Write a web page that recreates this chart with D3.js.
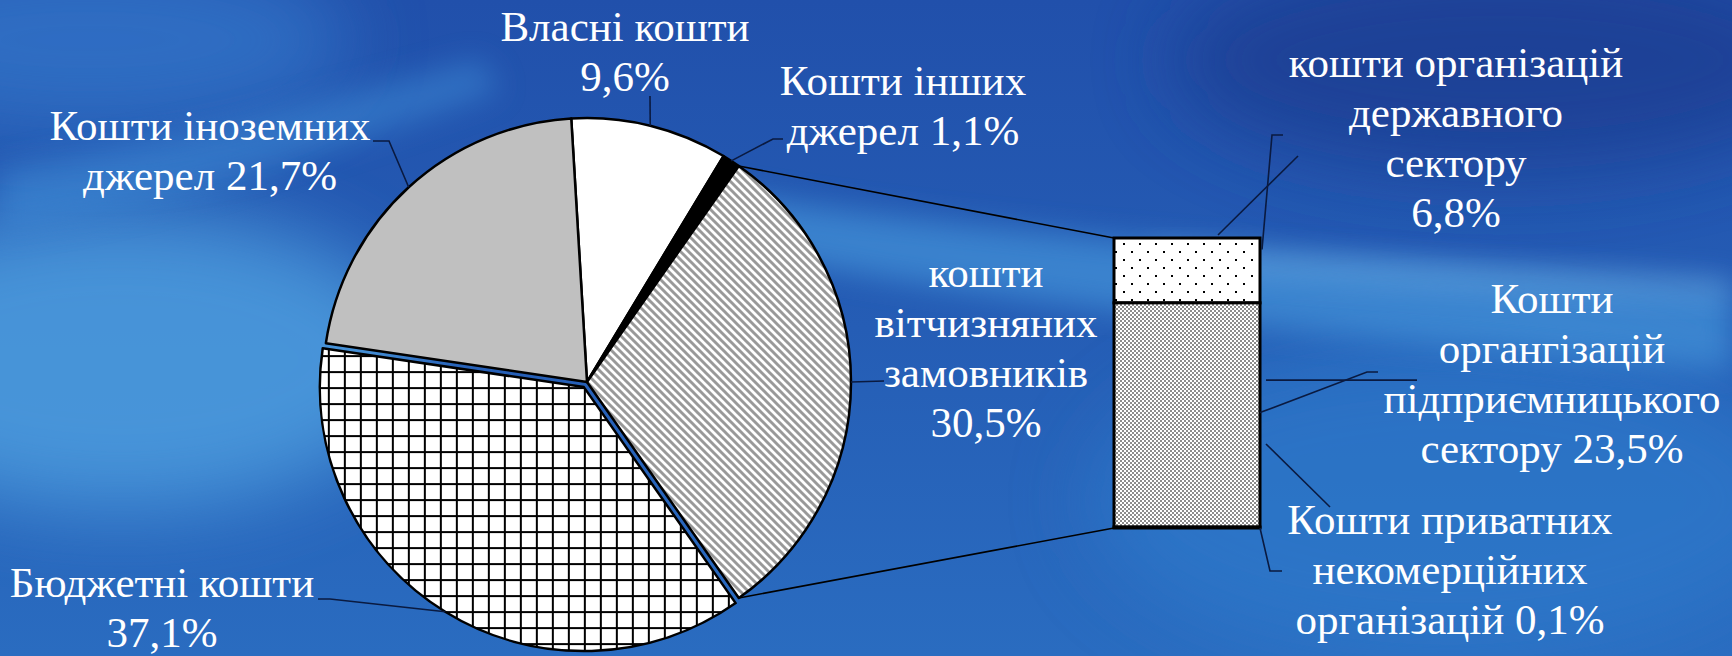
<!DOCTYPE html>
<html>
<head>
<meta charset="utf-8">
<script src="https://cdn.jsdelivr.net/npm/d3@7"></script>
<style>
  body { margin: 0; overflow: hidden; background: #2560b6; }
  text { font-family: "Liberation Serif", "DejaVu Serif", "Times New Roman", serif; }
</style>
</head>
<body>
<div id="container"></div>
<script>
/* DATA */
const pieNames = ["Власні кошти", "Кошти інших джерел", "кошти вітчизняних замовників", "Бюджетні кошти", "Кошти іноземних джерел"];
const pieValues = [9.6, 1.1, 30.5, 37.1, 21.7];
const pieLines = [
  ["Власні кошти", "{v}"],
  ["Кошти інших", "джерел {v}"],
  ["кошти", "вітчизняних", "замовників", "{v}"],
  ["Бюджетні кошти", "{v}"],
  ["Кошти іноземних", "джерел {v}"]
];
const barNames = ["кошти організацій державного сектору", "Кошти органгізацій підприємницького сектору", "Кошти приватних некомерційних організацій"];
const barValues = [6.8, 23.5, 0.1];
const barLines = [
  ["кошти організацій", "державного", "сектору", "{v}"],
  ["Кошти", "органгізацій", "підприємницького", "сектору {v}"],
  ["Кошти приватних", "некомерційних", "організацій {v}"]
];

/* CONSTANTS AND GLOBALS */
const width = 1732, height = 656;
const cx = 587, cy = 382, r = 264;
const explode = 6, explodedIndex = 3, splitIndex = 2;
const barX = 1114, barW = 146, barTop = 238, barBottom = 528;
const fontSize = 43, lineH = 50;

const pieLabelPos = [[625, 41], [903, 95], [986, 287], [162, 597], [210, 140]];
const pieLeaderEnds = [[[650, 96]], [[783, 139], [773, 139]], [[884, 381]], [[318, 599], [330, 599]], [[373, 141], [389, 141]]];
const barLabelPos = [[1456, 77], [1552, 313], [1450, 534]];

const fmt = v => d3.format(".1f")(v).replace(".", ",") + "%";

// CREATE SVG ELEMENT
const svg = d3.select("#container")
  .append("svg")
  .attr("width", width)
  .attr("height", height);

const defs = svg.append("defs");

// BACKGROUND
const bg = defs.append("linearGradient").attr("id", "bg")
  .attr("x1", 0).attr("y1", 0).attr("x2", 0).attr("y2", 1);
bg.append("stop").attr("offset", 0).attr("stop-color", "#2150ab");
bg.append("stop").attr("offset", 0.5).attr("stop-color", "#255db5");
bg.append("stop").attr("offset", 1).attr("stop-color", "#2a6cc0");

defs.append("filter").attr("id", "blur40").attr("x", "-50%").attr("y", "-50%").attr("width", "200%").attr("height", "200%")
  .append("feGaussianBlur").attr("stdDeviation", 40);
defs.append("filter").attr("id", "blur15").attr("x", "-50%").attr("y", "-50%").attr("width", "200%").attr("height", "200%")
  .append("feGaussianBlur").attr("stdDeviation", 15);

svg.append("rect").attr("width", width).attr("height", height).attr("fill", "url(#bg)");

const back = svg.append("g");
back.append("ellipse").attr("cx", 120).attr("cy", 360).attr("rx", 300).attr("ry", 150)
  .attr("fill", "#52a6e4").attr("opacity", 0.75).attr("filter", "url(#blur40)");
back.append("ellipse").attr("cx", 90).attr("cy", 40).attr("rx", 260).attr("ry", 90)
  .attr("fill", "#3479cc").attr("opacity", 0.7).attr("filter", "url(#blur40)");
back.append("ellipse").attr("cx", 1500).attr("cy", 60).attr("rx", 330).attr("ry", 110)
  .attr("fill", "#1a3c92").attr("opacity", 0.8).attr("filter", "url(#blur40)");
back.append("ellipse").attr("cx", 1450).attr("cy", 500).attr("rx", 360).attr("ry", 160)
  .attr("fill", "#2f7ccc").attr("opacity", 0.65).attr("filter", "url(#blur40)");
back.append("path")
  .attr("d", "M680,185 C900,225 1200,250 1732,290 L1732,370 C1250,330 950,295 700,245 Z")
  .attr("fill", "#4a9de0").attr("opacity", 0.6).attr("filter", "url(#blur15)");
back.append("path")
  .attr("d", "M1150,250 C1350,262 1550,272 1732,282 L1732,296 C1550,288 1350,280 1150,262 Z")
  .attr("fill", "#8fcaf2").attr("opacity", 0.5).attr("filter", "url(#blur15)");
back.append("path")
  .attr("d", "M0,170 C120,150 260,120 480,60 L500,90 C280,170 140,210 0,230 Z")
  .attr("fill", "#3f8ed8").attr("opacity", 0.5).attr("filter", "url(#blur15)");

// PATTERNS
const hatch = defs.append("pattern").attr("id", "hatch").attr("patternUnits", "userSpaceOnUse")
  .attr("width", 8).attr("height", 8);
hatch.append("rect").attr("width", 8).attr("height", 8).attr("fill", "#fff");
hatch.append("path").attr("d", "M-2,-2 L10,10 M-2,6 L2,10 M6,-2 L10,2")
  .attr("stroke", "#999").attr("stroke-width", 2.9);

const grid = defs.append("pattern").attr("id", "grid").attr("patternUnits", "userSpaceOnUse")
  .attr("width", 16).attr("height", 16);
grid.append("rect").attr("width", 16).attr("height", 16).attr("fill", "#fff");
grid.append("rect").attr("width", 16).attr("height", 2).attr("fill", "#000");
grid.append("rect").attr("width", 2).attr("height", 16).attr("fill", "#000");

const dots = defs.append("pattern").attr("id", "dots").attr("patternUnits", "userSpaceOnUse")
  .attr("width", 16).attr("height", 16);
dots.append("rect").attr("width", 16).attr("height", 16).attr("fill", "#fff");
dots.append("rect").attr("x", 3).attr("y", 3).attr("width", 2).attr("height", 2).attr("fill", "#000");
dots.append("rect").attr("x", 11).attr("y", 11).attr("width", 2).attr("height", 2).attr("fill", "#000");

const checker = defs.append("pattern").attr("id", "checker").attr("patternUnits", "userSpaceOnUse")
  .attr("width", 4).attr("height", 4);
checker.append("rect").attr("width", 4).attr("height", 4).attr("fill", "#fff");
checker.append("rect").attr("width", 2).attr("height", 2).attr("fill", "#8c8c8c");
checker.append("rect").attr("x", 2).attr("y", 2).attr("width", 2).attr("height", 2).attr("fill", "#8c8c8c");

const pieFills = ["#ffffff", "#000000", "url(#hatch)", "url(#grid)", "#c0c0c0"];
const barFills = ["url(#dots)", "url(#checker)", "#000000"];

// PIE
const total = d3.sum(pieValues);
const before = d3.sum(pieValues.slice(0, splitIndex)) + pieValues[splitIndex] / 2;
const start = Math.PI / 2 - 2 * Math.PI * before / total;

const pie = d3.pie().sort(null).value(d => d)
  .startAngle(start).endAngle(start + 2 * Math.PI);
const arcs = pie(pieValues);
const arc = d3.arc().innerRadius(0).outerRadius(r);

const polar = (a, rad) => [rad * Math.sin(a), -rad * Math.cos(a)];
const offsetOf = (d, i) => {
  if (i !== explodedIndex) return [0, 0];
  return polar((d.startAngle + d.endAngle) / 2, explode);
};

const pieG = svg.append("g").attr("transform", `translate(${cx},${cy})`);
pieG.selectAll("path.slice")
  .data(arcs)
  .join("path")
  .attr("class", "slice")
  .attr("transform", (d, i) => `translate(${offsetOf(d, i)})`)
  .attr("d", arc)
  .attr("fill", (d, i) => pieFills[i])
  .attr("stroke", "#000")
  .attr("stroke-width", 2.5)
  .attr("stroke-linejoin", "round");

// BAR
const barTotal = d3.sum(barValues);
const yScale = d3.scaleLinear().domain([0, barTotal]).range([barTop, barBottom]);
const cum = [0, ...d3.cumsum(barValues)];

svg.append("g").selectAll("rect")
  .data(barValues)
  .join("rect")
  .attr("x", barX)
  .attr("y", (d, i) => yScale(cum[i]))
  .attr("width", barW)
  .attr("height", (d, i) => Math.max(yScale(cum[i + 1]) - yScale(cum[i]), 0.5))
  .attr("fill", (d, i) => barFills[i])
  .attr("stroke", "#000")
  .attr("stroke-width", 3);

// CONNECTORS pie -> bar
const split = arcs[splitIndex];
const line = d3.line();
const connectors = [
  [polar(split.startAngle, r), [barX, yScale(0)]],
  [polar(split.endAngle, r), [barX, yScale(barTotal)]]
];
svg.append("g").selectAll("path")
  .data(connectors)
  .join("path")
  .attr("d", d => line([[d[0][0] + cx, d[0][1] + cy], d[1]]))
  .attr("stroke", "#000")
  .attr("stroke-width", 1.6)
  .attr("fill", "none");

// LEADER LINES
const pieLeaders = arcs.map((d, i) => {
  const off = offsetOf(d, i);
  const p = polar((d.startAngle + d.endAngle) / 2, r);
  return [...pieLeaderEnds[i], [p[0] + cx + off[0], p[1] + cy + off[1]]];
});
const barRight = barX + barW;
const barLeaders = [
  [[barX + 104, yScale(0) - 3], [1298, 156]],
  [[barRight + 2, yScale(1.2)], [1272, 135], [1283, 135]],
  [[barRight + 6, yScale(14.9)], [1417, yScale(14.9)]],
  [[barRight, yScale(18.3)], [1367, 372], [1378, 372]],
  [[barRight + 6, yScale(21.6)], [1330, 507]],
  [[barRight, yScale(barTotal)], [1270, 571], [1282, 571]]
];
svg.append("g").selectAll("path")
  .data([...pieLeaders, ...barLeaders])
  .join("path")
  .attr("d", d => line(d))
  .attr("stroke", "#0a1a40")
  .attr("stroke-width", 1.6)
  .attr("fill", "none");

// LABELS
function drawLabel(lines, value, pos) {
  const t = svg.append("text")
    .attr("x", pos[0]).attr("y", pos[1])
    .attr("text-anchor", "middle")
    .attr("fill", "#fff")
    .attr("font-size", fontSize);
  lines.forEach((l, k) => {
    t.append("tspan")
      .attr("x", pos[0])
      .attr("dy", k === 0 ? 0 : lineH)
      .text(l.replace("{v}", fmt(value)));
  });
}
pieValues.forEach((v, i) => drawLabel(pieLines[i], v, pieLabelPos[i]));
barValues.forEach((v, i) => drawLabel(barLines[i], v, barLabelPos[i]));
</script>
</body>
</html>
